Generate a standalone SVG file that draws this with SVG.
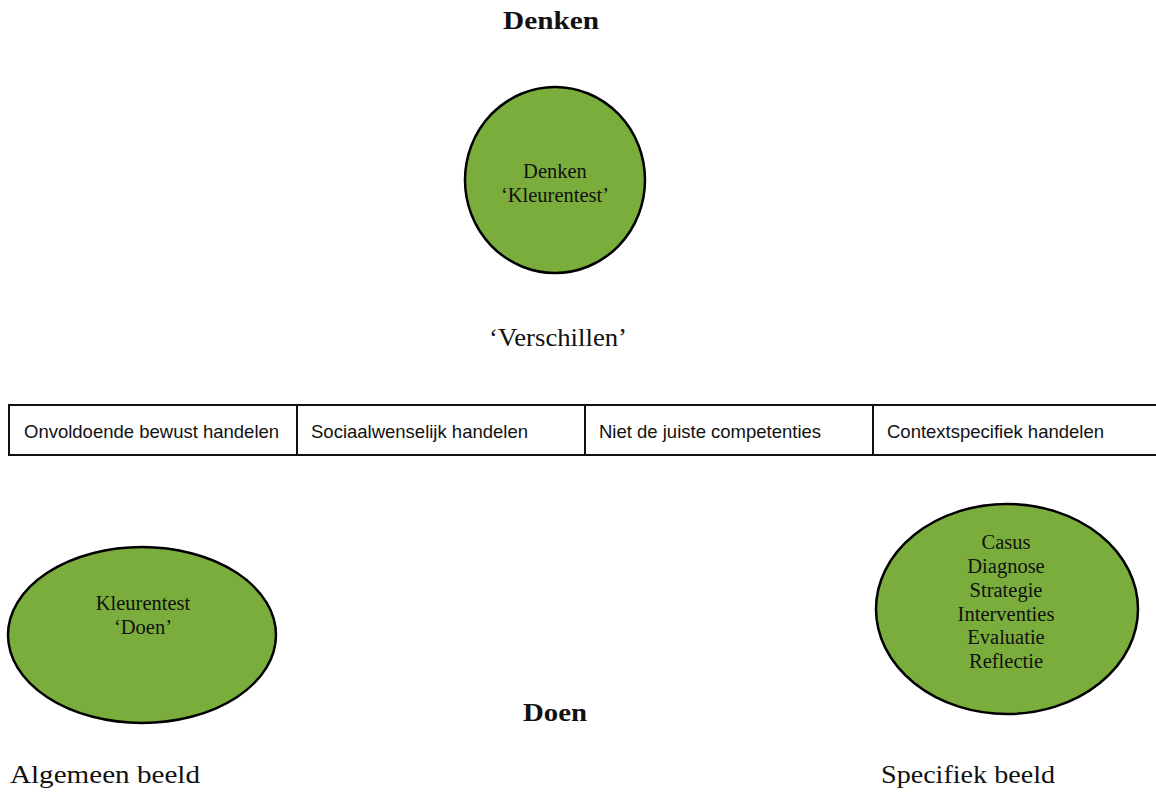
<svg xmlns="http://www.w3.org/2000/svg" width="1156" height="793" viewBox="0 0 1156 793">
<style>
.node{fill:#7aad3b;stroke:#000;stroke-width:2.5}
.in{font-family:"Liberation Serif",serif;font-size:20.5px;fill:#111;text-anchor:middle}
.big{font-family:"Liberation Serif",serif;font-size:26px;fill:#111}
.bold{font-family:"Liberation Serif",serif;font-size:25px;font-weight:bold;fill:#111}
.cell{fill:#fff;stroke:#111;stroke-width:2}
.ct{font-family:"Liberation Sans",sans-serif;font-size:18.5px;fill:#111}
</style>
<rect width="1156" height="793" fill="#fff"/>
<text class="bold" x="503" y="29" textLength="96" lengthAdjust="spacingAndGlyphs">Denken</text>
<g id="denken">
<ellipse class="node" cx="555" cy="180" rx="90" ry="93"/>
<text class="in" x="555" y="178">Denken</text>
<text class="in" x="555" y="202">‘Kleurentest’</text>
</g>
<text class="big" x="489" y="346" textLength="138" lengthAdjust="spacingAndGlyphs">‘Verschillen’</text>
<g id="table">
<rect class="cell" x="9" y="405" width="1160" height="50"/>
<line x1="297" y1="405" x2="297" y2="455" stroke="#111" stroke-width="2"/>
<line x1="585" y1="405" x2="585" y2="455" stroke="#111" stroke-width="2"/>
<line x1="873" y1="405" x2="873" y2="455" stroke="#111" stroke-width="2"/>
<text class="ct" x="24" y="438">Onvoldoende bewust handelen</text>
<text class="ct" x="311" y="438">Sociaalwenselijk handelen</text>
<text class="ct" x="599" y="438">Niet de juiste competenties</text>
<text class="ct" x="887" y="438">Contextspecifiek handelen</text>
</g>
<g id="kleurentest-doen">
<ellipse class="node" cx="142" cy="635" rx="134" ry="88"/>
<text class="in" x="143" y="610">Kleurentest</text>
<text class="in" x="143" y="634">‘Doen’</text>
</g>
<g id="specifiek">
<ellipse class="node" cx="1007" cy="609" rx="131" ry="105"/>
<text class="in" x="1006" y="549">Casus</text>
<text class="in" x="1006" y="573">Diagnose</text>
<text class="in" x="1006" y="597">Strategie</text>
<text class="in" x="1006" y="621">Interventies</text>
<text class="in" x="1006" y="644">Evaluatie</text>
<text class="in" x="1006" y="668">Reflectie</text>
</g>
<text class="bold" x="523" y="721" textLength="64" lengthAdjust="spacingAndGlyphs">Doen</text>
<text class="big" x="10" y="783" textLength="190" lengthAdjust="spacingAndGlyphs">Algemeen beeld</text>
<text class="big" x="881" y="783" textLength="174" lengthAdjust="spacingAndGlyphs">Specifiek beeld</text>
</svg>
